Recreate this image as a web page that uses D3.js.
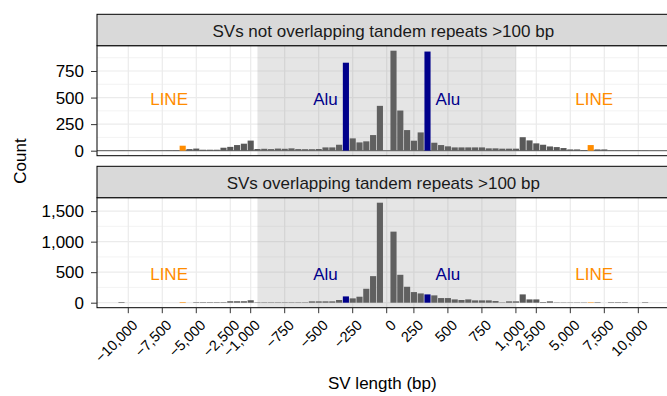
<!DOCTYPE html>
<html>
<head>
<meta charset="utf-8">
<script src="https://cdn.jsdelivr.net/npm/d3@7"></script>
<style>
  body { margin: 0; background: #fff; }
  svg { display: block; font-family: "Liberation Sans", Arial, sans-serif; }
</style>
</head>
<body>
<div id="chart"></div>
<script>

// SV length bins (bp) - 500 bp bins outside +-1 kb, 50 bp bins inside
var binsOuterLeft = d3.range(-12000, -1000, 500);
var binsInnerLeft = d3.range(-1000, 50, 50);
var binsInnerRight = d3.range(100, 1050, 50);
var binsOuterRight = d3.range(1500, 12500, 500);
var bins = [].concat(binsOuterLeft, binsInnerLeft, binsInnerRight, binsOuterRight);

// counts per bin, same order as bins
var countsNotTR = [
  0, 0, 0, 2, 0, 0, 0, 2, 0, 0, 2, 3,
  47, 15, 20, 9, 9, 9, 28, 36, 53, 66,
  95, 16, 18, 15, 20, 18, 22, 15, 14, 14, 16, 31, 31, 56, 828, 116, 78, 88, 147, 422,
  0,
  941, 378, 194, 94, 172, 933, 75, 53, 41, 31, 31, 31, 31, 31, 22, 22, 19, 19, 19,
  127, 97, 69, 56, 40, 34, 25, 12, 12, 6, 53, 12, 12, 3, 3, 2, 2, 2, 2, 0, 0, 0
];
var countsTR = [
  0, 0, 0, 10, 0, 0, 0, 0, 0, 0, 0, 0,
  10, 0, 8, 8, 8, 8, 8, 24, 24, 24,
  40, 6, 6, 6, 6, 6, 6, 6, 6, 22, 22, 22, 22, 44, 103, 71, 98, 228, 435, 1638,
  0,
  1164, 457, 261, 174, 152, 136, 120, 76, 76, 54, 44, 54, 38, 38, 38, 27, 5, 22, 22,
  136, 54, 54, 10, 22, 5, 5, 5, 5, 5, 8, 8, 0, 8, 8, 8, 0, 0, 8, 0, 0, 0
];

var panelTitles = ["SVs not overlapping tandem repeats >100 bp", "SVs overlapping tandem repeats >100 bp"];
var yTicksTop = [0, 250, 500, 750];
var yTicksBottom = [0, 500, 1000, 1500];

var lineBins = [-6000, 6500];
var aluBins = [-300, 350];

var xTickValues = [-10000, -7500, -5000, -2500, -1000, -750, -500, -250, 0, 250, 500, 750, 1000, 2500, 5000, 7500, 10000];
var xTickLabels = ["\u221210,000", "\u22127,500", "\u22125,000", "\u22122,500", "\u22121,000", "\u2212750", "\u2212500", "\u2212250",
  "0", "250", "500", "750", "1,000", "2,500", "5,000", "7,500", "10,000"];

var annoText = ["LINE", "Alu", "Alu", "LINE"];
var annoBins = [[-7000, -7000], [-450, -450], [500, 500], [6500, 7000]];
var annoValue = 500;
var shadeBins = [-950, 1000];

var colLine = "#ff8c00", colAlu = "#00008b", colBar = "#595959";

var fullwidth = 667, fullheight = 396;
var plotLeft = 97, plotRight = 669.6;
var fontSize = 17;

var svg = d3.select("#chart")
  .append("svg")
  .attr("width", fullwidth)
  .attr("height", fullheight);

var xScale = d3.scaleBand()
  .domain(bins)
  .range([plotLeft, plotRight])
  .paddingInner(0.1)
  .paddingOuter(0.15);

function xc(k) { return xScale(k) + xScale.bandwidth() / 2; }

function barColor(k) {
  if (lineBins.indexOf(k) >= 0) return colLine;
  if (aluBins.indexOf(k) >= 0) return colAlu;
  return null;
}

var panels = [
  { title: panelTitles[0], counts: countsNotTR, yTicks: yTicksTop, stripTop: 14.3, top: 45.7, bottom: 155.7, hline: true },
  { title: panelTitles[1], counts: countsTR, yTicks: yTicksBottom, stripTop: 166.3, top: 197.7, bottom: 307.7, hline: false }
];

panels.forEach(function (p, pi) {
  var data = bins.map(function (b, i) { return { bin: b, count: p.counts[i], col: barColor(b) }; });
  var maxC = d3.max(data, function (d) { return d.count; });
  var yScale = d3.scaleLinear()
    .domain([-0.05 * maxC, 1.05 * maxC])
    .range([p.bottom, p.top]);

  var g = svg.append("g").attr("class", "panel");

  // background
  g.append("rect")
    .attr("x", plotLeft).attr("y", p.top)
    .attr("width", plotRight - plotLeft).attr("height", p.bottom - p.top)
    .attr("fill", "#fff");

  // minor grid
  var minor = [];
  p.yTicks.forEach(function (t, i) {
    var next = i < p.yTicks.length - 1 ? p.yTicks[i + 1] : t + (t - p.yTicks[i - 1]);
    var m = (t + next) / 2;
    if (m < yScale.domain()[1]) minor.push(m);
  });
  g.selectAll(".minor")
    .data(minor).enter().append("line")
    .attr("x1", plotLeft).attr("x2", plotRight)
    .attr("y1", function (d) { return yScale(d); })
    .attr("y2", function (d) { return yScale(d); })
    .attr("stroke", "#ebebeb").attr("stroke-width", 0.6);

  g.selectAll(".hmajor")
    .data(p.yTicks).enter().append("line")
    .attr("x1", plotLeft).attr("x2", plotRight)
    .attr("y1", function (d) { return yScale(d); })
    .attr("y2", function (d) { return yScale(d); })
    .attr("stroke", "#ebebeb").attr("stroke-width", 1.2);

  g.selectAll(".vmajor")
    .data(xTickValues).enter().append("line")
    .attr("x1", function (d) { return xc(d); })
    .attr("x2", function (d) { return xc(d); })
    .attr("y1", p.top).attr("y2", p.bottom)
    .attr("stroke", "#ebebeb").attr("stroke-width", 1.2);

  // grey bars
  g.selectAll(".bar")
    .data(data.filter(function (d) { return !d.col && d.count > 0; }))
    .enter().append("rect")
    .attr("x", function (d) { return xScale(d.bin); })
    .attr("width", xScale.bandwidth())
    .attr("y", function (d) { return yScale(d.count); })
    .attr("height", function (d) { return yScale(0) - yScale(d.count); })
    .attr("fill", colBar);

  if (p.hline) {
    g.append("line")
      .attr("x1", plotLeft).attr("x2", plotRight)
      .attr("y1", yScale(0)).attr("y2", yScale(0))
      .attr("stroke", colBar).attr("stroke-width", 1);
  }

  // shaded +-1kb window
  g.append("rect")
    .attr("x", xc(shadeBins[0]))
    .attr("width", xc(shadeBins[1]) - xc(shadeBins[0]))
    .attr("y", p.top).attr("height", p.bottom - p.top)
    .attr("fill", "#7f7f7f").attr("fill-opacity", 0.2);

  // Alu / LINE bars
  g.selectAll(".cbar")
    .data(data.filter(function (d) { return d.col && d.count > 0; }))
    .enter().append("rect")
    .attr("x", function (d) { return xScale(d.bin); })
    .attr("width", xScale.bandwidth())
    .attr("y", function (d) { return yScale(d.count); })
    .attr("height", function (d) { return yScale(0) - yScale(d.count); })
    .attr("fill", function (d) { return d.col; });

  g.selectAll(".anno")
    .data(annoText).enter().append("text")
    .attr("x", function (d, i) { return (xc(annoBins[i][0]) + xc(annoBins[i][1])) / 2; })
    .attr("y", yScale(annoValue))
    .attr("dy", "0.46em")
    .attr("text-anchor", "middle")
    .attr("font-size", fontSize)
    .attr("fill", function (d) { return d === "LINE" ? colLine : colAlu; })
    .text(function (d) { return d; });

  // panel border
  g.append("rect")
    .attr("x", plotLeft).attr("y", p.top)
    .attr("width", plotRight - plotLeft).attr("height", p.bottom - p.top)
    .attr("fill", "none").attr("stroke", "#000").attr("stroke-width", 1);

  // strip
  g.append("rect")
    .attr("x", plotLeft).attr("y", p.stripTop)
    .attr("width", plotRight - plotLeft).attr("height", p.top - p.stripTop)
    .attr("fill", "#d9d9d9").attr("stroke", "#000").attr("stroke-width", 1);
  g.append("text")
    .attr("x", (plotLeft + plotRight) / 2)
    .attr("y", (p.stripTop + p.top) / 2)
    .attr("dy", "0.4em")
    .attr("text-anchor", "middle")
    .attr("font-size", fontSize)
    .attr("fill", "#1a1a1a")
    .text(p.title);

  // y axis
  var yAxis = d3.axisLeft(yScale)
    .tickValues(p.yTicks)
    .tickSize(6)
    .tickPadding(7)
    .tickFormat(d3.format(","));
  var ya = svg.append("g")
    .attr("class", "y axis")
    .attr("transform", "translate(" + plotLeft + ",0)")
    .call(yAxis);
  ya.select(".domain").remove();
  ya.selectAll("line").attr("stroke", "#333");
  ya.selectAll("text")
    .attr("font-size", fontSize)
    .attr("font-family", "Liberation Sans, Arial, sans-serif")
    .attr("fill", "#000");

  if (pi === panels.length - 1) {
    var xAxis = d3.axisBottom(xScale)
      .tickValues(xTickValues)
      .tickSize(5.5)
      .tickFormat(function (d, i) { return xTickLabels[i]; });
    var xa = svg.append("g")
      .attr("class", "x axis")
      .attr("transform", "translate(0," + p.bottom + ")")
      .call(xAxis);
    xa.select(".domain").remove();
    xa.selectAll("line").attr("stroke", "#333");
    xa.selectAll("text")
      .attr("x", 0).attr("y", 0)
      .attr("dy", "0.71em")
      .attr("transform", "translate(3,11) rotate(-45)")
      .style("text-anchor", "end")
      .attr("font-size", 14.5)
      .attr("font-family", "Liberation Sans, Arial, sans-serif")
      .attr("fill", "#000");
  }
});

// axis titles
svg.append("text")
  .attr("x", (plotLeft + plotRight) / 2 - 1)
  .attr("y", 389)
  .attr("text-anchor", "middle")
  .attr("font-size", fontSize)
  .text("SV length (bp)");

svg.append("text")
  .attr("transform", "translate(26," + (panels[0].stripTop + panels[1].bottom) / 2 + ") rotate(-90)")
  .attr("text-anchor", "middle")
  .attr("font-size", fontSize)
  .text("Count");

</script>
</body>
</html>
